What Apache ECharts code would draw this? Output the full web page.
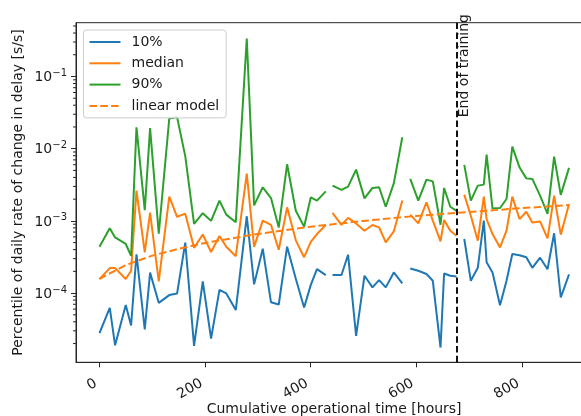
<!DOCTYPE html>
<html><head><meta charset="utf-8">
<script src="https://cdn.jsdelivr.net/npm/echarts@6/dist/echarts.min.js"></script>
<style>html,body{margin:0;padding:0;background:#fff;overflow:hidden;width:581px;height:416px}#c{width:600px;height:416px}</style>
</head><body><div id="c"></div>
<script>
const hours = [0, 19.5, 29.6, 49.8, 59.9, 70.1, 85.8, 95.9, 112.3, 132.2, 147, 162.5, 179.2, 195.7, 211.4, 227.3, 240.2, 258.2, 279, 292.9, 309.3, 324.9, 339.6, 355.4, 371.9, 387.6, 400.3, 412, 428.7, 434.4, 441.4, 458.4, 470.9, 486.1, 502, 517.1, 529.6, 542.3, 557.5, 573.6, 581.2, 588.7, 603.9, 619.4, 631.4, 646, 652.8, 664.5, 676.3, 683.5, 691, 703.4, 716.6, 728, 733.3, 744.5, 758.7, 771, 782, 795.6, 808.5, 819.9, 834.6, 848.7, 861.2, 873.8, 889.4];
const p10 = [2.79e-5, 6.25e-5, 1.89e-5, 6.82e-5, 3.56e-5, 3.45e-4, 3.13e-5, 1.92e-4, 7.33e-5, 9.38e-5, 9.87e-5, 4.99e-4, 1.86e-5, 1.45e-4, 2.34e-5, 1.11e-4, 9.9e-5, 5.81e-5, 1.16e-3, 1.32e-4, 4.11e-4, 7.45e-5, 6.95e-5, 4.39e-4, 1.58e-4, 6.31e-5, 1.30e-4, 2.15e-4, 1.77e-4, null, 1.78e-4, 1.78e-4, 3.40e-4, 2.56e-5, 1.74e-4, 1.20e-4, 1.51e-4, 1.20e-4, 1.93e-4, 1.36e-4, null, 2.19e-4, 2.04e-4, 1.84e-4, 1.48e-4, 1.76e-5, 1.87e-4, 1.74e-4, 1.70e-4, null, 5.61e-4, 1.48e-4, 2.24e-4, 1.01e-3, 2.67e-4, 1.93e-4, 6.78e-5, 1.48e-4, 3.48e-4, 3.34e-4, 3.14e-4, 2.24e-4, 3.09e-4, 2.14e-4, 6.74e-4, 8.69e-5, 1.82e-4];
const median = [1.56e-4, 2.22e-4, 2.22e-4, 1.57e-4, 2.04e-4, 2.62e-3, 3.66e-4, 1.30e-3, 1.45e-4, 2.17e-3, 1.14e-3, 1.26e-3, 4.23e-4, 6.47e-4, 3.71e-4, 6.19e-4, 4.39e-4, 3.24e-4, 4.52e-3, 4.36e-4, 1.01e-3, 8.81e-4, 3.98e-4, 1.54e-3, 5.38e-4, 3.14e-4, 5.12e-4, 6.58e-4, 8.77e-4, null, 1.29e-3, 8.8e-4, 1.10e-3, 9.22e-4, 7.31e-4, 8.77e-4, 8.13e-4, 5.04e-4, 7.14e-4, 1.91e-3, null, 1.22e-3, 9.22e-4, 1.81e-3, 1.01e-3, 5.20e-4, 1.03e-3, 7.31e-4, 6.24e-4, null, 2.31e-3, 1.18e-3, 5.31e-4, 2.17e-3, 1.06e-3, 6.58e-4, 4.29e-4, 7.31e-4, 2.17e-3, 1.06e-3, 1.34e-3, 9.53e-4, 9.84e-4, 5.71e-4, 2.24e-3, 6.44e-4, 1.71e-3];
const p90 = [4.39e-4, 7.93e-4, 5.90e-4, 4.79e-4, 3.29e-4, 1.98e-2, 1.41e-3, 1.93e-2, 6.64e-4, 2.61e-2, 2.74e-2, 7.88e-3, 9.06e-4, 1.28e-3, 1.00e-3, 1.91e-3, 1.22e-3, 9.60e-4, 0.336, 1.64e-3, 2.92e-3, 2.07e-3, 8.13e-4, 6.08e-3, 1.38e-3, 8.32e-4, 2.12e-3, 1.91e-3, 2.56e-3, null, 3.08e-3, 2.69e-3, 2.98e-3, 5.13e-3, 2.05e-3, 2.86e-3, 2.92e-3, 1.57e-3, 3.31e-3, 1.44e-2, null, 3.81e-3, 1.91e-3, 3.73e-3, 3.53e-3, 8.85e-4, 2.86e-3, 1.57e-3, 1.38e-3, null, 5.96e-3, 1.91e-3, 3.08e-3, 3.18e-3, 8.28e-3, 1.48e-3, 1.51e-3, 2.01e-3, 1.07e-2, 5.52e-3, 3.88e-3, 3.81e-3, 2.24e-3, 1.25e-3, 7.76e-3, 2.29e-3, 5.42e-3];
const modelHours = [0, 50, 100, 150, 200, 300, 400, 500, 600, 700, 800, 889.4];
const modelValues = [1.58e-4, 2.45e-4, 3.3e-4, 4.1e-4, 4.95e-4, 6.6e-4, 8.3e-4, 1.0e-3, 1.17e-3, 1.33e-3, 1.5e-3, 1.66e-3];
const endOfTraining = 677;
const seriesNames = ['10%', 'median', '90%', 'linear model'];
const xTicks = [0, 200, 400, 600, 800];
const yTicks = [1e-4, 1e-3, 1e-2, 1e-1];
const yMinorTicks = [2e-5,3e-5,4e-5,5e-5,6e-5,7e-5,8e-5,9e-5,2e-4,3e-4,4e-4,5e-4,6e-4,7e-4,8e-4,9e-4,2e-3,3e-3,4e-3,5e-3,6e-3,7e-3,8e-3,9e-3,2e-2,3e-2,4e-2,5e-2,6e-2,7e-2,8e-2,9e-2,0.2,0.3,0.4,0.5];
const xMin = -44.45, xMax = 933.5, yMin = 1.1e-5, yMax = 0.556;

const FONT = 'DejaVu Sans';
const TXT = '#1a1a1a';
const AX = '#262626';
const toPairs = (xs, ys) => xs.map((x, i) => [x, ys[i] == null ? '-' : ys[i]]);

const chart = echarts.init(document.getElementById('c'), null, {renderer: 'canvas', width: 600, height: 416});
const lineSeries = (name, ys, color, extra) => Object.assign({
  name, type: 'line', data: toPairs(hours, ys), symbol: 'none', connectNulls: false,
  color, lineStyle: {color, width: 2}, z: 3
}, extra || {});

chart.setOption({
  animation: false,
  grid: {left: 76, top: 22.7, width: 516.3, height: 339.6, outerBoundsMode: 'none', containLabel: false, show: true, borderColor: AX, borderWidth: 1, backgroundColor: 'transparent'},
  legend: {
    orient: 'vertical', left: 83.5, top: 30, data: seriesNames,
    itemWidth: 31, itemHeight: 14, itemGap: 7.3, padding: [5, 7, 5, 5],
    itemStyle: {opacity: 0, borderWidth: 0},
    backgroundColor: 'rgba(255,255,255,0.8)', borderColor: '#cccccc', borderWidth: 1, borderRadius: 3,
    textStyle: {fontFamily: FONT, fontSize: 14, color: TXT, padding: [0, 0, 0, 6]}, z: 10
  },
  xAxis: {
    type: 'value', min: xMin, max: xMax,
    name: 'Cumulative operational time [hours]', nameLocation: 'middle', nameGap: 40, nameMoveOverlap: false,
    nameTextStyle: {fontFamily: FONT, fontSize: 14, color: TXT},
    axisLine: {show: true, onZero: false, lineStyle: {color: AX, width: 1}},
    axisTick: {show: true, length: 5, customValues: xTicks, lineStyle: {color: AX, width: 1}},
    axisLabel: {customValues: xTicks, rotate: 30, margin: 18, fontFamily: FONT, fontSize: 14, color: TXT, padding: [0, 4, 0, 0]},
    splitLine: {show: false}
  },
  yAxis: {
    type: 'log', logBase: 10, min: yMin, max: yMax,
    name: 'Percentile of daily rate of change in delay [s/s]', nameLocation: 'middle', nameGap: 51, nameMoveOverlap: false,
    nameTextStyle: {fontFamily: FONT, fontSize: 14, color: TXT},
    axisLine: {show: true, onZero: false, lineStyle: {color: AX, width: 1}},
    axisTick: {show: true, length: 5, customValues: yTicks, lineStyle: {color: AX, width: 1}},
    axisLabel: {
      customValues: yTicks, margin: 9, fontFamily: FONT, fontSize: 14, color: TXT,
      formatter: v => '{b|10}{s|\u2212' + Math.round(-Math.log10(v)) + '}',
      rich: {
        b: {fontFamily: FONT, fontSize: 14, color: TXT, verticalAlign: 'bottom'},
        s: {fontFamily: FONT, fontSize: 10, color: TXT, verticalAlign: 'bottom', padding: [0, 0, 6, 0]}
      }
    },
    splitLine: {show: false}
  },
  series: [
    lineSeries(seriesNames[0], p10, '#1f77b4'),
    lineSeries(seriesNames[1], median, '#ff7f0e'),
    lineSeries(seriesNames[2], p90, '#2ca02c'),
    {
      name: seriesNames[3], type: 'line', data: toPairs(modelHours, modelValues), symbol: 'none',
      color: '#ff7f0e', lineStyle: {color: '#ff7f0e', width: 2, type: [7.5, 3.3]}, z: 4,
      markLine: {
        silent: true, symbol: ['none', 'none'], label: {show: false},
        lineStyle: {color: '#111', width: 2, type: [6.5, 3.3]},
        data: [{xAxis: endOfTraining}]
      }
    },
    {
      type: 'custom', name: 'minorTicks', clip: false, silent: true, z: 5,
      data: yMinorTicks.map(v => [xMin, v]),
      renderItem: (params, api) => {
        const p = api.coord([api.value(0), api.value(1)]);
        return {type: 'line', shape: {x1: p[0] - 3, y1: p[1], x2: p[0], y2: p[1]}, style: {stroke: AX, lineWidth: 1}};
      }
    }
  ]
});

const px = chart.convertToPixel({xAxisIndex: 0}, endOfTraining);
chart.setOption({
  graphic: [{
    type: 'text', x: px + 7, y: 14, rotation: Math.PI / 2, z: 20,
    style: {text: 'End of training', font: '14px "DejaVu Sans"', fill: TXT, align: 'right', verticalAlign: 'middle'}
  }]
});
</script>
</body></html>
